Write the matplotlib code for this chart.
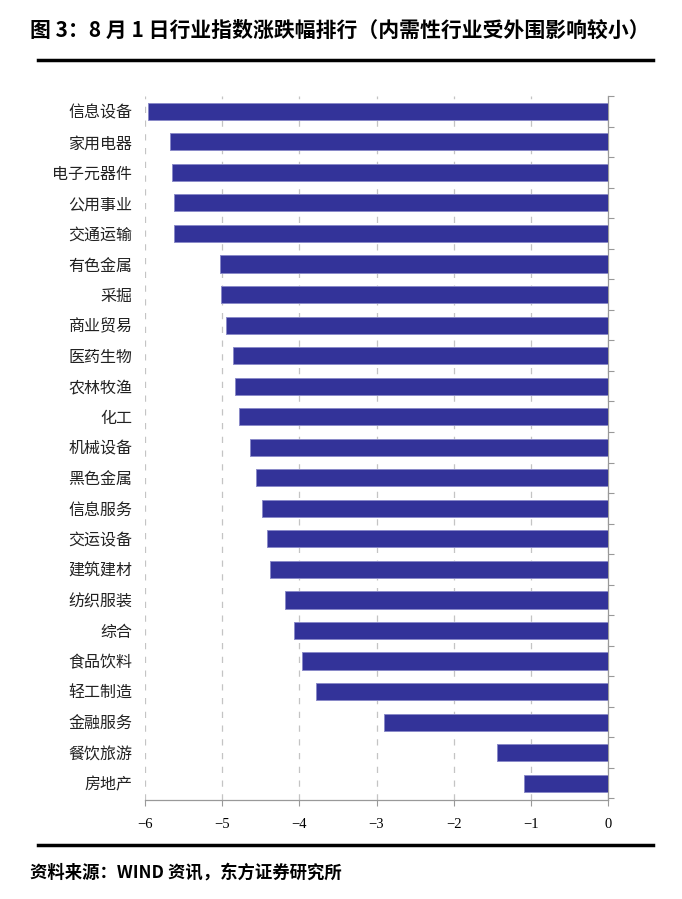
import matplotlib
matplotlib.use("Agg")
import matplotlib.pyplot as plt
from matplotlib.lines import Line2D

plt.rcParams['font.family'] = ['Noto Sans CJK SC', 'DejaVu Sans']
plt.rcParams['axes.unicode_minus'] = True

industries = ['信息设备', '家用电器', '电子元器件', '公用事业', '交通运输', '有色金属',
              '采掘', '商业贸易', '医药生物', '农林牧渔', '化工', '机械设备',
              '黑色金属', '信息服务', '交运设备', '建筑建材', '纺织服装', '综合',
              '食品饮料', '轻工制造', '金融服务', '餐饮旅游', '房地产']
changes = [-5.96, -5.68, -5.65, -5.62, -5.62, -5.03, -5.01, -4.95, -4.86, -4.83,
           -4.78, -4.64, -4.56, -4.48, -4.42, -4.38, -4.19, -4.07, -3.97, -3.78,
           -2.90, -1.44, -1.09]
xticks = [-6, -5, -4, -3, -2, -1, 0]

fig = plt.figure(figsize=(6.82, 8.99), dpi=100)
ax = fig.add_axes([0.2126, 0.1101, 0.679, 0.7831])

pos = list(range(len(industries)))
ax.barh(pos, changes, height=0.56, color='#333399', edgecolor='#8a8ac8', linewidth=0.7, zorder=3)
ax.set_ylim(len(industries) - 0.45, -0.5)
ax.set_xlim(-6, 0)

ax.set_yticks(pos)
ax.set_yticklabels(industries, fontsize=11.5, color='#222222')
ax.set_yticks([p - 0.5 for p in pos] + [len(pos) - 0.5], minor=True)
ax.tick_params(axis='y', which='major', left=False, right=False, length=0, pad=9)
ax.tick_params(axis='y', which='minor', left=False, right=True, direction='out',
               length=4, color='#999999', width=0.8)

ax.set_xticks(xticks)
ax.set_xticklabels(['−%d' % -v if v else '0' for v in xticks],
                   fontsize=10.5, family='Liberation Serif')
ax.tick_params(axis='x', direction='out', length=4, color='#999999', width=0.8, pad=9)

ax.grid(axis='x', linestyle=(0, (5, 6)), color='#c4c4c4', linewidth=0.9, zorder=0)
for s in ['top', 'left']:
    ax.spines[s].set_visible(False)
for s in ['right', 'bottom']:
    ax.spines[s].set_color('#999999')
    ax.spines[s].set_linewidth(0.9)

fig.text(30 / 682, 1 - 30 / 899, '图 3：8 月 1 日行业指数涨跌幅排行（内需性行业受外围影响较小）',
         fontsize=15, fontweight='bold', va='center', ha='left')
fig.add_artist(Line2D([38 / 682, 653 / 682], [1 - 60 / 899] * 2, color='black', linewidth=2.5))
fig.add_artist(Line2D([38 / 682, 653 / 682], [1 - 845 / 899] * 2, color='black', linewidth=2.5))
fig.text(30 / 682, 1 - 873 / 899, '资料来源：WIND 资讯，东方证券研究所',
         fontsize=12.5, fontweight='bold', fontstyle='italic', va='center', ha='left')

fig.savefig('out.png', dpi=100)
